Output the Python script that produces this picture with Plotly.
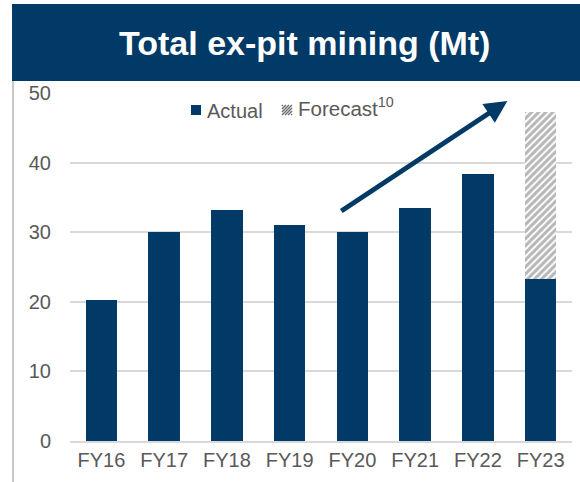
import plotly.graph_objects as go

years = ["FY16", "FY17", "FY18", "FY19", "FY20", "FY21", "FY22", "FY23"]
actual = [20.2, 30.1, 33.2, 31.1, 30.1, 33.5, 38.3, 23.3]
forecast = [None, None, None, None, None, None, None, 23.9]

navy = "#013A66"
grey_text = "#595959"
hatch = "#6F6F6F"

W, H = 580, 482
L, R, T, B = 70, 8, 93, 41


def px(x):
    # pixel -> paper x
    return (x - L) / (W - L - R)


def py(y):
    # pixel -> paper y
    return (H - B - y) / (H - T - B)


fig = go.Figure()
fig.add_trace(go.Bar(x=years, y=actual, name="Actual", showlegend=False,
                     marker=dict(color=navy, line=dict(width=0))))
fig.add_trace(go.Bar(x=years, y=forecast, name="Forecast", showlegend=False,
                     marker=dict(color="white", line=dict(width=0),
                                 pattern=dict(shape="/", fgcolor=hatch, bgcolor="white",
                                              size=5, solidity=0.6))))

# banner behind the title
fig.add_shape(type="rect", xref="paper", yref="paper",
              x0=px(12), x1=px(582), y0=py(81), y1=py(4),
              fillcolor=navy, line=dict(width=0), layer="below")
# thin grey frame line on the left
fig.add_shape(type="line", xref="paper", yref="paper",
              x0=px(13), x1=px(13), y0=py(484), y1=py(81),
              line=dict(color="#C8C8C8", width=2))

fig.add_annotation(text="<b>Total ex-pit mining (Mt)</b>", xref="paper", yref="paper",
                   x=px(304), y=py(43), showarrow=False, xanchor="center", yanchor="middle",
                   font=dict(size=34, color="white", family="Liberation Sans, Arial"))

# hand-made legend
fig.add_shape(type="rect", xref="paper", yref="paper",
              x0=px(191), x1=px(201), y0=py(115), y1=py(105),
              fillcolor=navy, line=dict(width=0))
fig.add_annotation(text="Actual", xref="paper", yref="paper", x=px(205), y=py(111),
                   xanchor="left", yanchor="middle", showarrow=False,
                   font=dict(size=20, color=grey_text))
# small hatched swatch, 10x10 px box with "/" stripes
bx, by, bs = 282, 105, 10
for s in range(-9, 10, 3):
    if s >= 0:
        x0, y0, x1, y1 = bx + s, by + bs, bx + bs, by + s
    else:
        x0, y0, x1, y1 = bx, by + bs + s, bx + bs + s, by
    fig.add_shape(type="line", xref="paper", yref="paper",
                  x0=px(x0), y0=py(y0), x1=px(x1), y1=py(y1),
                  line=dict(color=hatch, width=1.5))
fig.add_annotation(text="Forecast<sup>10</sup>", xref="paper", yref="paper", x=px(296), y=py(107),
                   xanchor="left", yanchor="middle", showarrow=False,
                   font=dict(size=20.5, color=grey_text))

# growth arrow
fig.add_annotation(x=6.47, y=48.85, ax=3.8, ay=32.9, xref="x", yref="y",
                   axref="x", ayref="y", text="", showarrow=True,
                   arrowhead=2, arrowsize=0.9, arrowwidth=5, arrowcolor=navy)

fig.update_layout(
    width=W, height=H,
    margin=dict(l=L, r=R, t=T, b=B),
    barmode="stack", bargap=0.5,
    plot_bgcolor="white", paper_bgcolor="white",
    font=dict(family="Liberation Sans, Arial", size=20, color=grey_text),
    showlegend=False,
    xaxis=dict(showgrid=False, showline=True, linecolor="#D9D9D9", linewidth=2,
               ticks="", tickfont=dict(size=20, color=grey_text)),
    yaxis=dict(range=[0, 50], dtick=10, showgrid=True, gridcolor="#D9D9D9", gridwidth=2,
               zeroline=False, ticks="", ticklabelstandoff=18,
               tickfont=dict(size=20, color=grey_text)),
)

fig.write_html("out.html", config={"displayModeBar": False},
               post_script="document.body.style.margin='0';")
